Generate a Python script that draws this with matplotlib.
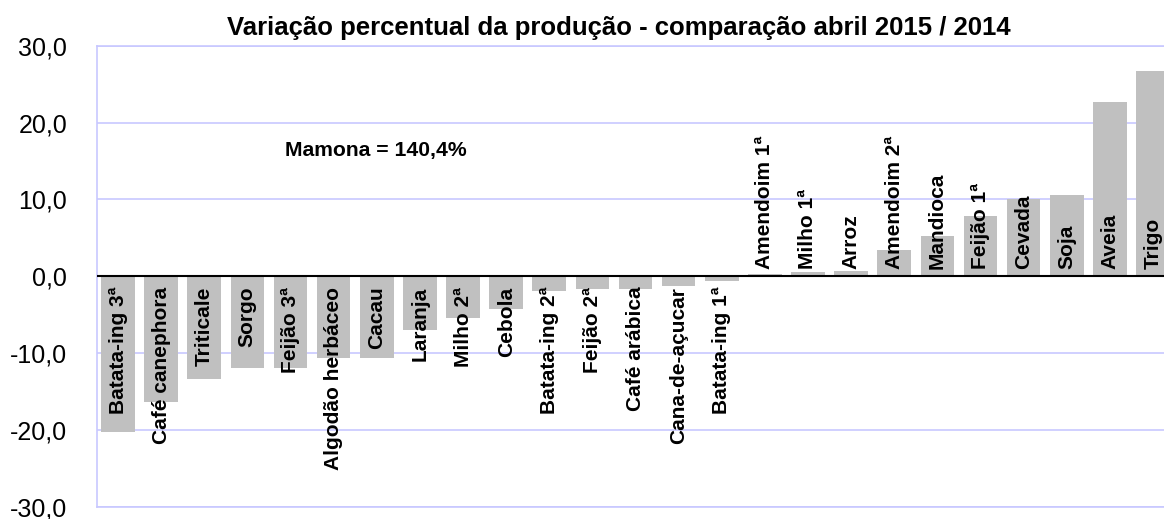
import numpy as np
import matplotlib
matplotlib.use("Agg")
import matplotlib.pyplot as plt

plt.rcParams['font.family'] = ['Liberation Sans', 'DejaVu Sans']

title = "Variação percentual da produção - comparação abril 2015 / 2014"
note = "Mamona = 140,4%"

categories = ["Batata-ing 3ª", "Café canephora", "Triticale", "Sorgo", "Feijão 3ª",
              "Algodão herbáceo", "Cacau", "Laranja", "Milho 2ª", "Cebola",
              "Batata-ing 2ª", "Feijão 2ª", "Café arábica", "Cana-de-açucar",
              "Batata-ing 1ª", "Amendoim 1ª", "Milho 1ª", "Arroz", "Amendoim 2ª",
              "Mandioca", "Feijão 1ª", "Cevada", "Soja", "Aveia", "Trigo"]
values = [-20.3, -16.4, -13.4, -12.0, -12.0, -10.7, -10.7, -7.0, -5.4, -4.2,
          -1.9, -1.6, -1.6, -1.3, -0.6, 0.3, 0.6, 0.7, 3.4, 5.3,
          7.9, 10.1, 10.6, 22.7, 26.7]

yticks = [30, 20, 10, 0, -10, -20, -30]
ytick_labels = ["30,0", "20,0", "10,0", "0,0", "-10,0", "-20,0", "-30,0"]

W, H = 1164, 519
fig = plt.figure(figsize=(W / 100, H / 100), dpi=100)
left_px, right_px = 96.5, 1174.5
top_px, bot_px = 45.7, 506.8
ax = fig.add_axes([left_px / W, (H - bot_px) / H,
                   (right_px - left_px) / W, (bot_px - top_px) / H])

grid_color = '#C8C8FF'
x = np.arange(len(categories))
ax.bar(x, values, width=0.78, color='#C0C0C0', zorder=2)
ax.set_xlim(-0.5, len(categories) - 0.5)
ax.set_ylim(-30, 30)
ax.set_yticks(yticks)
ax.set_yticklabels(ytick_labels, fontsize=18)
ax.set_xticks([])
ax.tick_params(axis='y', length=0, pad=21)
ax.grid(axis='y', color=grid_color, lw=1.2, zorder=0)
ax.set_axisbelow(True)
for s in ['left', 'top', 'bottom']:
    ax.spines[s].set_color(grid_color)
    ax.spines[s].set_linewidth(1.2)
ax.spines['right'].set_visible(False)
ax.axhline(0, color='black', lw=1.5, zorder=3)

for i, (c, v) in enumerate(zip(categories, values)):
    if v < 0:
        ax.annotate(c, (i, 0), xytext=(0, -7.5), textcoords='offset points',
                    rotation=90, ha='center', va='top', fontweight='bold',
                    fontsize=15, zorder=4)
    else:
        ax.annotate(c, (i, 0), xytext=(0, 5), textcoords='offset points',
                    rotation=90, ha='center', va='bottom', fontweight='bold',
                    fontsize=15, zorder=4)

ax.text(3.86, 15.7, note, fontweight='bold', fontsize=15.2, ha='left', va='baseline')

fig.text(619 / W, 1 - 35.3 / H, title, ha='center', va='baseline',
         fontweight='bold', fontsize=18.5)

fig.savefig("out.png", dpi=100)
